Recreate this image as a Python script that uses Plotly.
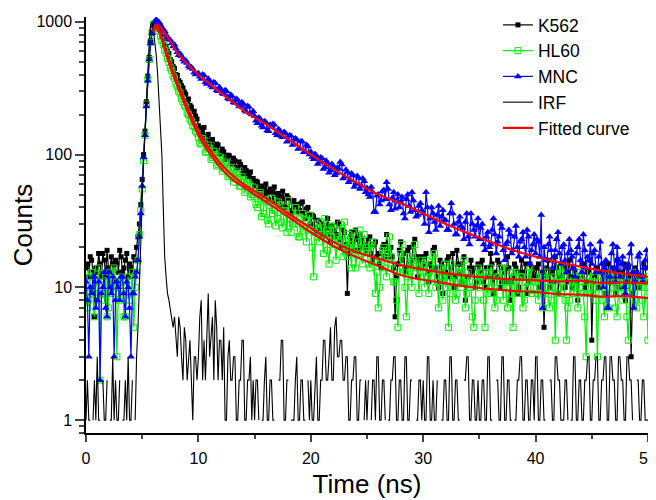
import plotly.graph_objects as go

# time channels, 0.125 ns apart (0 .. 50 ns)
step = 0.125
t = [round(i * step, 3) for i in range(401)]

k562 = [14, 15, 12, 17, 16, 13, 6, 14, 13, 18, 15, 12, 18, 16, 12, 19, 14, 13, 17, 15, 11, 16, 15, 13, 19, 17, 13, 14, 16, 18, 12, 15, 14, 13, 17, 16, 20, 24, 30, 42,
        65, 100, 150, 250, 390, 540, 720, 850, 960, 990, 1000, 960, 880, 840, 780, 740, 670, 650, 600, 575, 520, 500, 460, 445, 400, 395, 360, 350, 330, 318, 295, 285, 255, 262, 235, 228, 210, 212, 195, 185,
        165, 158, 150, 140, 160, 128, 135, 142, 125, 118, 130, 108, 112, 120, 118, 102, 100, 110, 105, 92, 92, 99, 98, 86, 85, 94, 90, 80, 78, 88, 84, 73, 72, 80, 76, 68, 70, 74, 64, 66,
        58, 63, 62, 54, 50, 58, 55, 49, 60, 52, 46, 55, 52, 45, 57, 50, 44, 51, 48, 41, 53, 46, 40, 49, 47, 38, 36, 44, 45, 40, 42, 37, 38, 43, 44, 36, 33, 39, 40, 35,
        30, 35, 34, 28, 26, 32, 31, 27, 24, 30, 29, 25, 33, 28, 22, 29, 27, 24, 25, 31, 30, 23, 20, 27, 26, 21, 9, 18, 24, 26, 22, 19, 27, 23, 19, 25, 23, 20, 21, 18,
        20, 23, 24, 18, 16, 21, 22, 17, 18, 15, 14, 20, 21, 17, 25, 19, 17, 20, 17, 14, 6, 12, 15, 19, 22, 16, 18, 14, 13, 19, 20, 15, 16, 21, 23, 17, 12, 16, 17, 14,
        15, 17, 18, 13, 11, 15, 14, 19, 20, 14, 12, 10, 16, 15, 9, 13, 13, 16, 17, 12, 14, 18, 10, 12, 19, 15, 13, 11, 15, 17, 8, 12, 12, 14, 16, 13, 14, 10, 11, 15,
        13, 15, 16, 11, 10, 14, 14, 12, 18, 15, 9, 13, 12, 16, 15, 10, 11, 14, 13, 11, 17, 14, 8, 11, 12, 15, 14, 9, 10, 13, 16, 12, 13, 15, 9, 11, 15, 13, 12, 14,
        12, 14, 15, 10, 11, 13, 5, 12, 14, 16, 10, 13, 13, 11, 17, 14, 9, 12, 12, 15, 14, 10, 11, 13, 16, 12, 10, 14, 13, 11, 8, 12, 12, 15, 15, 10, 11, 13, 13, 16,
        4, 11, 12, 14, 14, 10, 10, 13, 13, 15, 9, 12, 15, 11, 11, 14, 12, 9, 16, 13, 10, 12, 13, 15, 8, 11, 14, 12, 3, 9, 11, 14, 13, 10, 10, 12, 12, 15, 14, 11,
        11]

hl60 = [10, 7, 8, 12, 13, 9, 6, 10, 11, 14, 2, 8, 9, 11, 12, 6, 7, 13, 10, 9, 14, 11, 3, 9, 8, 12, 11, 6, 6, 10, 12, 8, 9, 13, 5, 10, 13, 16, 25, 38,
        55, 90, 140, 240, 370, 520, 700, 830, 950, 970, 980, 910, 860, 780, 720, 670, 610, 580, 530, 495, 450, 430, 390, 375, 340, 325, 300, 290, 265, 250, 235, 228, 205, 200, 185, 178, 165, 162, 150, 145,
        135, 122, 120, 132, 128, 104, 105, 118, 112, 92, 95, 106, 100, 82, 84, 96, 92, 75, 78, 88, 85, 68, 70, 80, 76, 62, 66, 74, 72, 58, 58, 68, 65, 52, 54, 62, 60, 48, 50, 57,
        48, 42, 40, 50, 52, 34, 36, 46, 44, 32, 30, 41, 47, 36, 38, 29, 33, 44, 42, 31, 28, 38, 37, 26, 45, 33, 26, 30, 34, 40, 30, 24, 24, 33, 36, 27, 28, 22, 32, 35,
        27, 20, 12, 26, 30, 24, 22, 31, 25, 18, 33, 27, 19, 15, 24, 29, 28, 21, 16, 24, 23, 30, 20, 17, 31, 22, 17, 25, 21, 14, 26, 20, 14, 19, 22, 27, 18, 15, 25, 20,
        19, 15, 14, 21, 22, 16, 9, 13, 7, 10, 16, 19, 20, 14, 12, 18, 24, 17, 15, 11, 11, 8, 5, 13, 18, 21, 13, 10, 6, 12, 17, 14, 10, 16, 21, 15, 14, 9, 12, 16,
        13, 10, 16, 12, 9, 14, 12, 17, 18, 10, 11, 7, 14, 12, 8, 15, 10, 13, 5, 9, 15, 11, 12, 8, 9, 13, 14, 10, 11, 16, 7, 9, 13, 11, 10, 6, 5, 8, 12, 14,
        10, 12, 13, 8, 5, 10, 9, 13, 14, 9, 11, 7, 8, 12, 12, 14, 10, 8, 15, 11, 7, 9, 11, 13, 5, 10, 13, 9, 9, 12, 12, 7, 8, 11, 10, 13, 14, 9, 9, 11,
        11, 9, 8, 12, 12, 7, 9, 11, 13, 10, 7, 8, 10, 12, 4, 9, 12, 14, 9, 11, 14, 8, 4, 7, 8, 12, 11, 9, 10, 13, 7, 10, 13, 11, 9, 6, 3, 9, 11, 13,
        9, 11, 12, 8, 3, 9, 10, 12, 8, 6, 13, 11, 7, 10, 11, 13, 9, 7, 6, 10, 12, 9, 8, 12, 10, 6, 4, 9, 11, 13, 9, 8, 7, 11, 12, 10, 8, 6, 10, 12,
        4]

mnc = [11, 8, 3, 10, 9, 12, 12, 7, 8, 11, 2, 9, 10, 13, 7, 6, 13, 10, 9, 12, 3, 8, 11, 10, 8, 12, 12, 9, 6, 11, 10, 7, 3, 9, 9, 12, 13, 16, 24, 36,
       58, 95, 140, 230, 360, 520, 690, 820, 930, 990, 1040, 1010, 990, 950, 900, 880, 850, 800, 760, 740, 730, 690, 650, 670, 630, 590, 560, 575, 550, 520, 500, 510, 490, 465, 450, 455, 440, 415, 400, 405,
       410, 385, 370, 400, 395, 350, 340, 372, 360, 330, 320, 350, 345, 305, 300, 322, 310, 290, 285, 305, 300, 265, 260, 282, 275, 248, 245, 262, 258, 232, 230, 248, 240, 215, 210, 232, 228, 205, 200, 212,
       195, 180, 172, 190, 185, 165, 160, 178, 175, 152, 150, 168, 162, 170, 168, 145, 140, 155, 152, 138, 135, 148, 145, 125, 128, 140, 138, 118, 120, 132, 130, 110, 112, 126, 125, 104, 106, 118, 115, 100,
       105, 96, 92, 101, 98, 85, 88, 95, 94, 78, 80, 90, 86, 73, 76, 85, 82, 70, 72, 80, 78, 88, 84, 66, 68, 77, 74, 62, 64, 72, 70, 57, 60, 69, 67, 55, 58, 66, 63, 52,
       56, 50, 48, 57, 52, 37, 37, 49, 50, 42, 45, 53, 54, 46, 62, 55, 42, 38, 47, 52, 39, 45, 50, 40, 44, 48, 36, 33, 46, 50, 41, 37, 52, 45, 38, 34, 35, 41, 43, 38,
       36, 30, 52, 40, 26, 33, 40, 36, 31, 27, 35, 41, 29, 34, 38, 32, 32, 27, 27, 36, 43, 36, 30, 25, 25, 31, 34, 29, 28, 23, 31, 36, 24, 21, 36, 30, 27, 24, 29, 33,
       23, 28, 30, 21, 19, 24, 26, 20, 21, 27, 33, 25, 18, 22, 24, 30, 28, 19, 16, 21, 22, 27, 25, 18, 19, 24, 29, 20, 17, 22, 23, 26, 20, 17, 27, 24, 15, 19, 21, 25,
       18, 23, 22, 17, 35, 7, 20, 16, 16, 21, 24, 19, 14, 17, 19, 23, 26, 18, 15, 20, 21, 16, 13, 18, 23, 19, 17, 14, 12, 18, 20, 23, 16, 13, 25, 19, 14, 17, 16, 21,
       15, 18, 19, 13, 13, 17, 22, 15, 10, 14, 16, 7, 7, 12, 18, 21, 14, 11, 20, 16, 12, 15, 17, 10, 9, 14, 15, 18, 21, 13, 7, 11, 13, 17, 18, 12, 11, 14, 16, 19,
       14]

# zero counts -> None (nothing to draw on a log axis)
irf = [1, 2, 1, 1, None, 1, 2, 1, 3, 1, 1, None, 2, 1, 1, 2, None, 1, 1, 3, 1, 2, 1, 1, 2, None, 1, 1, 2, 1, 3, 1, 1, 2, None, 1, 3, 5, 12, 25,
       45, 90, 160, 280, 460, 700, 950, 1000, 860, 720, 560, 400, 260, 170, 100, 40, 17, 12, 9, 8, 7, 6, 5, 6, 4, 3, 6, 5, 3, 2, 5, 4, 2, 3, 4, 2, 1, 3, 3, 2,
       3, 6, 8, 2, 4, 2, 5, 9, 3, 4, 6, 2, 8, 5, 2, 4, 4, 2, 5, 1, 1, 3, 4, 2, 2, 3, 3, 1, 1, 2, 2, 4, 4, 1, 1, 2, 2, 3, 1, 2,
       1, 2, 2, 1, None, 1, 1, 2, 3, 1, 1, 2, 2, 1, 1, None, None, 2, 2, 4, 4, 1, 1, 2, 2, None, 1, 1, 1, 2, 3, 1, 1, 2, 2, 1, 1, None, 2, 1,
       2, 1, 1, 2, 3, 1, 1, 2, 2, 4, 4, 2, 2, 3, 5, 2, 2, 5, 6, 3, 3, 4, 4, 2, 2, 3, 3, 1, 1, 2, 2, 3, 3, 1, 1, 2, 2, None, 1, 2,
       1, 2, None, 1, 2, 2, 1, 3, 3, 1, 1, 2, 2, 1, None, 1, 1, 2, 2, 3, 3, 1, 1, 2, 2, 1, 1, 3, 3, 1, 1, 2, 2, None, None, 1, 1, 2, 2, 1,
       2, 1, 1, 3, 3, 1, 1, 2, 1, 1, 2, None, None, 1, 1, 2, 2, 1, 1, 3, 3, 1, 1, 2, 2, 1, 1, None, None, 2, 2, 3, 3, 1, 1, 2, 2, 1, 1, 2,
       1, 1, 2, 2, 1, 1, 3, 3, 1, 1, None, None, 2, 2, 1, 1, 3, 3, 1, 1, 2, 2, 1, 1, None, 1, 1, 2, 2, 3, 3, 1, 1, 2, 2, 1, 1, 2, 2, 1,
       3, 3, 1, 1, 2, 2, 1, 1, None, None, 2, 2, 1, 1, 3, 3, 2, 2, 1, 1, 1, 2, 2, 1, None, 1, 1, 3, 3, 1, 1, 2, 2, 1, 1, 2, 2, 3, 3, 1,
       1, 2, 2, 3, 3, 1, 1, 2, 2, 3, 3, 1, 1, 3, 3, 2, 2, 1, 1, 3, 3, 2, 2, 1, 1, 3, 3, 2, 2, 1, None, None, 2, 2, 1, 1, 2, 2, 1, 1,
       1]

assert len(k562) == len(hl60) == len(mnc) == len(irf) == len(t)

# fitted curves
t_fit = [6.0, 6.25, 6.5, 7, 7.5, 8, 9, 10, 11, 12, 13, 14, 15, 16, 18, 20, 22, 24,
         26, 28, 30, 32, 34, 36, 38, 40, 42, 44, 46, 48, 50]
fit_mnc = [880, 950, 940, 820, 720, 600, 480, 400, 340, 290, 250, 215, 190, 170, 130, 100, 78, 62,
           50, 43, 36, 30, 25.5, 22, 19, 17, 15.5, 14.3, 13.3, 12.6, 12.0]
fit_k562 = [850, 920, 870, 650, 480, 370, 230, 150, 110, 85, 70, 60, 53, 47, 36, 28, 22, 18.5,
            16.5, 14.7, 13.6, 12.8, 12.2, 11.8, 11.5, 11.3, 11.1, 11.2, 10.8, 10.9, 10.7]
fit_hl60 = [830, 900, 850, 620, 455, 350, 215, 140, 102, 79, 65, 57, 50, 44, 34, 26, 20.5, 17,
            14.5, 12.4, 11.4, 10.7, 10.1, 9.7, 9.4, 9.2, 8.9, 8.8, 8.5, 8.6, 8.3]

x_ticks = [0, 10, 20, 30, 40, 50]
y_ticks = [1, 10, 100, 1000]
y_minor = [0.8, 0.9] + [m * 10 ** d for d in range(3) for m in range(2, 10)]

fig = go.Figure()
fig.add_trace(go.Scatter(x=t, y=k562, name='K562', mode='lines+markers',
                         line=dict(color='black', width=1.2),
                         marker=dict(symbol='square', size=5, color='black')))
fig.add_trace(go.Scatter(x=t, y=hl60, name='HL60', mode='lines+markers',
                         line=dict(color='#00ee00', width=1.2),
                         marker=dict(symbol='square-open', size=6, color='#00ee00', line=dict(width=1))))
fig.add_trace(go.Scatter(x=t, y=mnc, name='MNC', mode='lines+markers',
                         line=dict(color='#0000ff', width=1.2),
                         marker=dict(symbol='triangle-up', size=7, color='#0000ff')))
fig.add_trace(go.Scatter(x=t, y=irf, name='IRF', mode='lines',
                         line=dict(color='black', width=1.1), connectgaps=False))
for i, fy in enumerate([fit_mnc, fit_k562, fit_hl60]):
    fig.add_trace(go.Scatter(x=t_fit, y=fy, name='Fitted curve', mode='lines',
                             line=dict(color='#ff0000', width=2.2, shape='spline'),
                             legendgroup='fit', showlegend=(i == 0)))

# the page body adds an 8px offset, so the canvas is 648x492
fig.update_layout(
    width=648, height=492,
    margin=dict(l=78, r=8, t=9, b=67, autoexpand=False),
    paper_bgcolor='white', plot_bgcolor='white',
    font=dict(family='Liberation Sans, Arial, sans-serif', color='black'),
    showlegend=True,
    legend=dict(x=0.733, y=1.024, xanchor='left', yanchor='top', bgcolor='rgba(0,0,0,0)',
                font=dict(size=17.5), tracegroupgap=0),
)
fig.update_xaxes(range=[0, 50], tickvals=x_ticks, ticks='outside', ticklen=7, tickwidth=1.5,
                 showline=True, linecolor='black', linewidth=1.5, showgrid=False, zeroline=False,
                 tickfont=dict(size=16), ticklabelstandoff=3, automargin=False, ticklabeloverflow='allow',
                 minor=dict(tickvals=[5, 15, 25, 35, 45], ticks='outside', ticklen=4, tickwidth=1.5),
                 title=dict(text='Time (ns)', font=dict(size=26), standoff=9))
fig.update_yaxes(type='log', range=[-0.097, 3.036], tickvals=y_ticks, ticktext=['1', '10', '100', '1000'],
                 ticks='outside', ticklen=9, tickwidth=1.5, automargin=False,
                 showline=True, linecolor='black', linewidth=1.5, showgrid=False, zeroline=False,
                 tickfont=dict(size=16),
                 minor=dict(tickvals=y_minor, ticks='outside', ticklen=5, tickwidth=1.5),
                 title=dict(text='Counts', font=dict(size=26), standoff=16))

fig.write_html("out.html")
